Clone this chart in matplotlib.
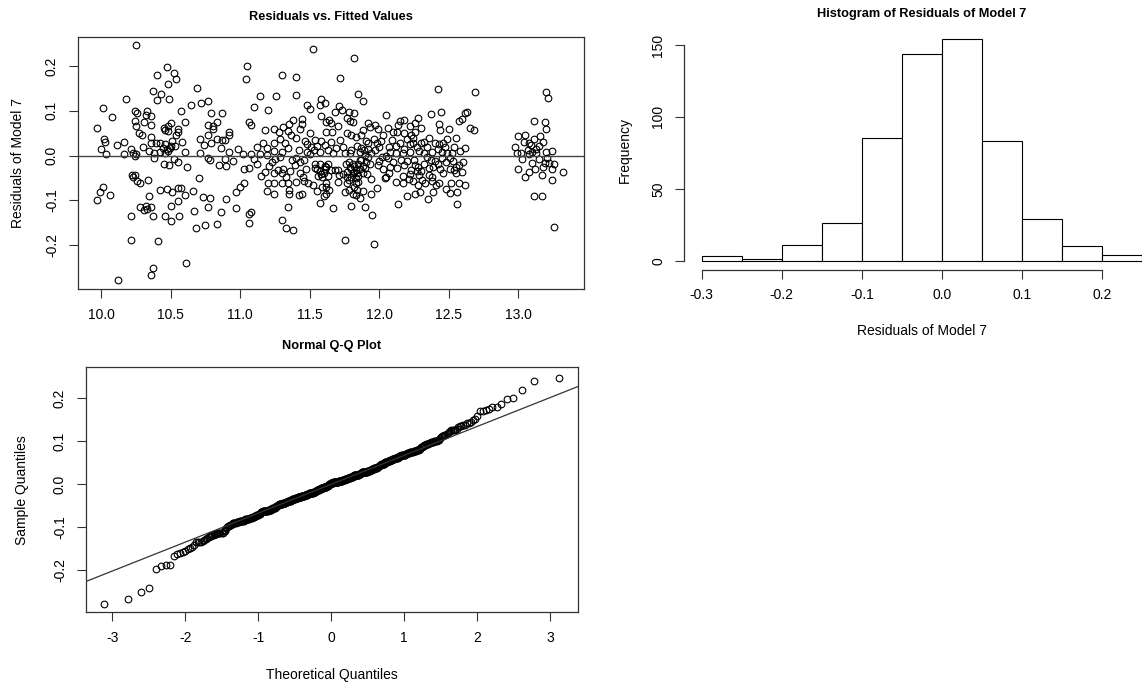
import numpy as np
import matplotlib
matplotlib.use("Agg")
import matplotlib.pyplot as plt
from statistics import NormalDist

plt.rcParams['font.family'] = ['Liberation Sans', 'DejaVu Sans']
plt.rcParams['axes.unicode_minus'] = False

# (fitted value, residual) pairs, grouped by region
pts_a = [(10.25, 0.246), (10.47, 0.197), (10.52, 0.185), (10.40, 0.179), (10.54, 0.170), (10.48, 0.159),
         (10.37, 0.145), (10.43, 0.138), (10.18, 0.126), (10.40, 0.125), (10.49, 0.126), (10.01, 0.106),
         (10.645, 0.112), (10.57, 0.099), (10.245, 0.100), (10.26, 0.094), (10.33, 0.099), (10.08, 0.086),
         (10.32, 0.090), (10.36, 0.088), (10.24, 0.078), (10.31, 0.074), (9.97, 0.061), (10.25, 0.067),
         (10.36, 0.068), (10.50, 0.072), (10.48, 0.066), (10.46, 0.057), (10.48, 0.055), (10.55, 0.059),
         (10.555, 0.052), (10.27, 0.050), (10.29, 0.045), (10.54, 0.047), (10.355, 0.041), (10.02, 0.037),
         (10.03, 0.030), (10.16, 0.031), (10.11, 0.023), (10.0, 0.015), (10.36, 0.027), (10.39, 0.027),
         (10.42, 0.027), (10.46, 0.025), (10.51, 0.032), (10.53, 0.021), (10.445, 0.016), (10.47, 0.014),
         (10.495, 0.016), (10.21, 0.014), (10.345, 0.010), (10.035, 0.003), (10.16, 0.003), (10.23, 0.005),
         (10.25, 0.003), (10.24, 0.0), (10.455, 0.005), (10.48, 0.010)]
pts_b = [(10.45, -0.018), (10.49, -0.021), (10.55, -0.015), (10.22, -0.043), (10.245, -0.044), (10.23, -0.047),
         (10.255, -0.056), (10.28, -0.062), (10.335, -0.055), (10.01, -0.071), (9.99, -0.081), (9.97, -0.100),
         (10.06, -0.088), (10.42, -0.077), (10.47, -0.074), (10.51, -0.082), (10.55, -0.073), (10.57, -0.072),
         (10.60, -0.088), (10.345, -0.091), (10.555, -0.102), (10.28, -0.115), (10.32, -0.113), (10.33, -0.120),
         (10.36, -0.115), (10.31, -0.122), (10.50, -0.113), (10.21, -0.135), (10.37, -0.135), (10.46, -0.135),
         (10.50, -0.146), (10.56, -0.135), (10.21, -0.188), (10.41, -0.191), (10.37, -0.251), (10.355, -0.267),
         (10.12, -0.279), (10.607, -0.241)]
pts_c = [(11.52, 0.239), (11.05, 0.200), (11.04, 0.170), (11.30, 0.179), (11.40, 0.175), (10.69, 0.152),
         (11.145, 0.134), (11.26, 0.132), (11.40, 0.135), (10.72, 0.117), (10.77, 0.122), (11.10, 0.109),
         (11.20, 0.102), (10.79, 0.094), (10.87, 0.095), (11.48, 0.114), (11.50, 0.103), (11.57, 0.113),
         (11.58, 0.126), (11.61, 0.118), (11.58, 0.089), (10.77, 0.068), (10.80, 0.067), (10.80, 0.059),
         (10.83, 0.074), (11.06, 0.074), (11.08, 0.068), (11.38, 0.079), (11.445, 0.082), (11.445, 0.070),
         (11.43, 0.059), (11.18, 0.056), (11.24, 0.060), (11.28, 0.052), (11.31, 0.064), (11.34, 0.055),
         (11.365, 0.047), (11.50, 0.050), (10.77, 0.046), (10.71, 0.038), (10.83, 0.037), (10.87, 0.035),
         (10.89, 0.035), (10.92, 0.053), (10.92, 0.047), (10.74, 0.023), (10.79, 0.027), (10.86, 0.016),
         (11.16, 0.029), (11.24, 0.027), (11.19, 0.016), (11.24, 0.011), (11.285, 0.037), (11.345, 0.017),
         (11.465, 0.032), (11.48, 0.026), (11.51, 0.020), (11.54, 0.035), (11.58, 0.032), (11.61, 0.023),
         (11.53, 0.012), (11.57, 0.009), (10.71, 0.005), (10.92, 0.007), (11.02, 0.003), (11.08, 0.003),
         (11.14, 0.003), (11.19, 0.001), (10.77, -0.005), (10.89, -0.008)]
pts_d = [(10.845, -0.021), (10.90, -0.024), (10.78, -0.009), (11.03, -0.029), (11.06, -0.027), (11.23, -0.014),
         (11.21, -0.024), (11.18, -0.036), (11.15, -0.046), (11.24, -0.040), (11.27, -0.032), (11.31, -0.029),
         (11.30, -0.038), (11.33, -0.047), (11.30, -0.061), (11.345, -0.062), (11.20, -0.062), (11.245, -0.061),
         (11.19, -0.080), (11.245, -0.085), (11.35, -0.076), (11.35, -0.085), (11.285, -0.004), (11.37, -0.010),
         (11.39, -0.021), (11.43, -0.014), (11.46, -0.010), (11.50, 0.003), (11.535, -0.018), (11.57, -0.019),
         (11.607, -0.024), (11.43, -0.040), (11.45, -0.047), (11.46, -0.056), (11.49, -0.062), (11.445, -0.085),
         (11.42, -0.088), (11.59, -0.070), (11.60, -0.091), (11.57, -0.106), (10.70, -0.051), (10.66, -0.079),
         (10.73, -0.092), (10.78, -0.096), (10.90, -0.098), (10.97, -0.081), (11.0, -0.071), (11.03, -0.061),
         (10.67, -0.123), (10.77, -0.116), (10.86, -0.126), (10.97, -0.118), (11.06, -0.131), (11.08, -0.127),
         (11.06, -0.150), (10.68, -0.161), (10.745, -0.155), (10.83, -0.152), (11.34, -0.116), (11.30, -0.143),
         (11.33, -0.162), (11.38, -0.167)]
pts_e = [(11.82, 0.218), (11.72, 0.173), (11.845, 0.138), (11.885, 0.123), (12.42, 0.148), (11.71, 0.111),
         (11.73, 0.101), (11.68, 0.097), (11.78, 0.097), (11.82, 0.094), (11.77, 0.085), (11.79, 0.077),
         (11.81, 0.074), (11.64, 0.079), (11.655, 0.072), (11.62, 0.076), (11.62, 0.053), (11.66, 0.052),
         (12.37, 0.092), (12.445, 0.098), (12.43, 0.071), (12.435, 0.057), (12.57, 0.077), (12.595, 0.082),
         (12.62, 0.095), (11.92, 0.072), (11.93, 0.064), (11.97, 0.068), (11.99, 0.060), (12.06, 0.062),
         (12.15, 0.077), (12.18, 0.079), (12.135, 0.068), (12.22, 0.067), (12.255, 0.073), (12.30, 0.061),
         (12.10, 0.053), (12.125, 0.053), (12.18, 0.050), (12.23, 0.047), (12.26, 0.053), (11.77, 0.050),
         (11.80, 0.046), (11.83, 0.042), (11.87, 0.046), (11.905, 0.032), (11.92, 0.027), (11.96, 0.038),
         (11.98, 0.029), (12.01, 0.032), (12.095, 0.035), (12.15, 0.029), (12.20, 0.038), (12.22, 0.025),
         (12.245, 0.029), (12.30, 0.029), (12.32, 0.031), (12.40, 0.029), (12.43, 0.025), (12.46, 0.029),
         (12.49, 0.037), (12.535, 0.020), (12.62, 0.016), (11.69, 0.017), (11.75, 0.005), (11.80, 0.012),
         (11.79, 0.005), (11.87, 0.016), (11.89, 0.012), (11.90, 0.001), (11.94, 0.005), (12.05, 0.0),
         (12.08, 0.007), (12.12, 0.005), (12.17, 0.005), (12.22, 0.007), (12.285, 0.010), (12.32, 0.005),
         (12.38, 0.007), (12.45, 0.009), (12.49, 0.005), (12.52, 0.005), (11.63, 0.012)]
pts_f = [(11.92, -0.003), (11.87, -0.010), (11.845, -0.018), (11.82, -0.024), (11.79, -0.025), (11.77, -0.036),
         (11.81, -0.040), (11.83, -0.032), (11.86, -0.031), (11.88, -0.024), (11.905, -0.014), (11.80, -0.047),
         (11.83, -0.051), (11.77, -0.062), (11.83, -0.062), (11.75, -0.081), (11.78, -0.077), (11.81, -0.085),
         (11.84, -0.077), (11.86, -0.096), (11.83, -0.088), (11.94, -0.053), (11.94, -0.085), (11.98, -0.073),
         (11.80, -0.113), (11.90, -0.115), (11.95, -0.132), (11.67, -0.118), (11.755, -0.189), (11.96, -0.197),
         (11.99, -0.021), (12.02, -0.003), (12.06, -0.006), (12.08, -0.025), (12.04, -0.051), (12.05, -0.047),
         (12.155, -0.010), (12.18, -0.021), (12.23, -0.032), (12.17, -0.046), (12.17, -0.062), (12.215, -0.053),
         (12.24, -0.056), (12.26, -0.021), (12.27, -0.034), (12.285, -0.044), (12.31, -0.055), (12.32, -0.018),
         (12.345, -0.003), (12.37, -0.010), (12.357, -0.044), (12.39, -0.025), (12.42, -0.018), (12.45, -0.006),
         (12.43, -0.062), (12.41, -0.066), (12.33, -0.062), (12.135, -0.109), (12.26, -0.085), (12.29, -0.081),
         (12.35, -0.098), (12.39, -0.081), (12.51, -0.006), (12.507, -0.029), (12.535, -0.032), (12.57, -0.021),
         (12.55, -0.040), (12.595, -0.036), (12.517, -0.061), (12.57, -0.062), (12.615, -0.066), (12.51, -0.083),
         (12.56, -0.081), (12.56, -0.109), (11.62, -0.062), (11.64, -0.077), (11.62, -0.085), (11.70, -0.059),
         (11.71, -0.044), (11.65, -0.032), (11.68, -0.032), (11.70, -0.032), (11.63, -0.018)]
pts_g = [(12.69, 0.141), (13.20, 0.141), (13.216, 0.129), (12.63, 0.097), (12.65, 0.061), (12.68, 0.056),
         (13.11, 0.077), (13.19, 0.074), (13.0, 0.044), (13.05, 0.047), (13.11, 0.038), (13.155, 0.044),
         (13.08, 0.029), (13.095, 0.023), (13.15, 0.021), (13.07, 0.012), (12.99, 0.005), (13.02, 0.005),
         (13.08, 0.003), (13.13, 0.005), (13.20, 0.007), (13.21, -0.005)]
pts_h = [(13.10, -0.016), (13.19, -0.016), (13.22, -0.016), (13.18, -0.025), (13.24, -0.029), (13.12, -0.031),
         (13.08, -0.037), (13.05, -0.047), (13.17, -0.044), (13.24, -0.055), (13.32, -0.037), (13.11, -0.090),
         (13.17, -0.090), (13.255, -0.159)]
# points hidden in the dense overlapping clusters near the zero line
pts_dense_neg = [(11.55, -0.030), (11.57, -0.035), (11.58, -0.042), (11.59, -0.048), (11.60, -0.040),
                 (11.61, -0.030), (11.62, -0.025), (11.56, -0.045), (11.54, -0.028), (11.63, -0.046),
                 (11.76, -0.020), (11.78, -0.015), (11.80, -0.030), (11.81, -0.020), (11.82, -0.036),
                 (11.84, -0.040), (11.85, -0.045), (11.86, -0.010), (11.88, -0.038), (11.90, -0.028),
                 (11.91, -0.042), (11.93, -0.020), (11.74, -0.042), (11.77, -0.048), (12.00, -0.012),
                 (12.03, -0.030), (12.07, -0.040), (12.10, -0.015), (12.13, -0.028), (12.20, -0.012),
                 (12.22, -0.042), (12.25, -0.010), (12.28, -0.025), (12.30, -0.035), (12.36, -0.028),
                 (12.38, -0.048), (12.40, -0.012), (12.44, -0.030), (12.46, -0.040), (12.48, -0.015),
                 (12.53, -0.012), (12.55, -0.025), (12.60, -0.015), (11.10, -0.008), (11.12, -0.020),
                 (11.25, -0.008), (11.36, -0.035), (11.40, -0.005), (11.47, -0.030), (10.38, -0.005),
                 (10.52, -0.008), (10.62, -0.025), (10.95, -0.012), (13.03, -0.008), (13.15, -0.008),
                 (13.26, -0.020), (13.00, -0.030),
                 (11.52, -0.065), (11.55, -0.080), (11.62, -0.070), (11.78, -0.055), (11.82, -0.070),
                 (11.85, -0.060), (11.88, -0.080), (12.12, -0.060), (12.28, -0.065), (12.38, -0.058),
                 (12.48, -0.075), (11.40, -0.060), (12.20, -0.090)]
pts_dense_pos = [(10.38, 0.005), (10.42, 0.008), (10.50, 0.022), (10.58, 0.030), (10.30, 0.020), (10.60, 0.008),
                 (10.98, 0.015), (11.12, 0.020), (11.30, 0.008), (11.32, 0.028), (11.40, 0.040), (11.42, 0.012),
                 (11.55, 0.022), (11.48, 0.008), (11.65, 0.030), (11.67, 0.005), (11.72, 0.035), (11.74, 0.020),
                 (11.84, 0.022), (11.86, 0.008), (11.92, 0.015), (11.97, 0.012), (12.00, 0.020), (12.03, 0.045),
                 (12.07, 0.018), (12.12, 0.022), (12.18, 0.015), (12.24, 0.040), (12.27, 0.018), (12.34, 0.018),
                 (12.36, 0.040), (12.42, 0.015), (12.47, 0.020), (12.55, 0.040), (12.58, 0.010), (12.98, 0.020),
                 (13.04, 0.030), (13.13, 0.015), (13.18, 0.030), (13.24, 0.010), (13.10, 0.008),
                 (10.45, 0.062), (10.60, 0.075), (11.35, 0.070), (11.70, 0.065), (11.88, 0.058), (12.05, 0.090),
                 (12.28, 0.085), (12.50, 0.060), (13.20, 0.060)]

# histogram of residuals: bin edges and bar heights
hist_edges = [-0.30, -0.25, -0.20, -0.15, -0.10, -0.05, 0.00, 0.05, 0.10, 0.15, 0.20, 0.25]
hist_counts = [3, 1, 11, 26, 85, 144, 154, 83, 29, 10, 4]

pts = np.array(pts_a + pts_b + pts_c + pts_d + pts_e + pts_f + pts_g + pts_h
               + pts_dense_neg + pts_dense_pos)
fitted = pts[:, 0]
resid = pts[:, 1]

W, H = 1142, 685
fig = plt.figure(figsize=(W / 100, H / 100), dpi=100)


def box(l, t, r, b):
    return [l / W, 1 - b / H, (r - l) / W, (b - t) / H]


def style(ax, frame=True):
    for s in ax.spines.values():
        s.set_color('#333333')
        s.set_linewidth(0.9)
        s.set_visible(frame)
    ax.tick_params(direction='out', length=6.5, width=0.8, color='#333333',
                   labelsize=10, pad=7)
    for lab in ax.get_yticklabels():
        lab.set_rotation(90)
        lab.set_va('center')


def fmt(vals, f):
    return [f.format(v).replace('\u2212', '-') for v in vals]


mk = dict(marker='o', linestyle='none', mfc='none', mec='black', ms=4.8, mew=0.8)
title_kw = dict(ha='center', va='center', fontsize=9.2, fontweight='bold')

# ---- Residuals vs fitted ----
ax1 = fig.add_axes(box(77.7, 37, 584, 289.3))
ax1.plot(fitted, resid, **mk)
ax1.axhline(0, color='#444444', lw=1.0)
ax1.set_xlim(9.83, 13.473)
ax1.set_ylim(-0.299, 0.265)
xt = [10.0, 10.5, 11.0, 11.5, 12.0, 12.5, 13.0]
yt = [-0.2, -0.1, 0.0, 0.1, 0.2]
ax1.set_xticks(xt, fmt(xt, '{:.1f}'))
ax1.set_yticks(yt, fmt(yt, '{:.1f}'))
style(ax1)
fig.text(330.8 / W, 1 - 17 / H, 'Residuals vs. Fitted Values', **title_kw)
fig.text(18 / W, 1 - 163 / H, 'Residuals of Model 7', ha='center', va='center', rotation=90, fontsize=10)

# ---- Histogram ----
ax2 = fig.add_axes(box(684, 30.4, 1160, 269.5))
ax2.bar(hist_edges[:-1], hist_counts, width=np.diff(hist_edges), align='edge',
        facecolor='white', edgecolor='black', linewidth=0.8)
ax2.set_xlim(-0.322, 0.272)
ax2.set_ylim(-6.16, 160.16)
ht = [-0.3, -0.2, -0.1, 0.0, 0.1, 0.2]
ax2.set_xticks(ht, fmt(ht, '{:.1f}'))
ax2.set_yticks([0, 50, 100, 150], ['0', '50', '100', '150'])
style(ax2, frame=False)
ax2.spines['bottom'].set_visible(True)
ax2.spines['left'].set_visible(True)
ax2.spines['bottom'].set_bounds(-0.3, 0.2)
ax2.spines['left'].set_bounds(0, 150)
fig.text(922 / W, 1 - 14 / H, 'Histogram of Residuals of Model 7', **title_kw)
fig.text(922 / W, 1 - 331 / H, 'Residuals of Model 7', ha='center', va='center', fontsize=10)
fig.text(625 / W, 1 - 150 / H, 'Frequency', ha='center', va='center', rotation=90, fontsize=10)

# ---- Normal Q-Q ----
n = len(resid)
a = 0.375 if n <= 10 else 0.5
probs = (np.arange(1, n + 1) - a) / (n + 1 - 2 * a)
nd = NormalDist()
theo = np.array([nd.inv_cdf(p) for p in probs])
samp = np.sort(resid)
q_y = np.quantile(resid, [0.25, 0.75])
q_x = np.array([nd.inv_cdf(0.25), nd.inv_cdf(0.75)])
slope = (q_y[1] - q_y[0]) / (q_x[1] - q_x[0])
icpt = q_y[0] - slope * q_x[0]

ax3 = fig.add_axes(box(85.7, 367.3, 577.7, 612))
ax3.plot(theo, samp, **mk)
ax3.set_xlim(-3.364, 3.375)
ax3.set_ylim(-0.2977, 0.2714)
lx = np.array([-3.364, 3.375])
ax3.plot(lx, icpt + slope * lx, color='#333333', lw=0.9)
qt = [-3, -2, -1, 0, 1, 2, 3]
ax3.set_xticks(qt, fmt(qt, '{:d}'))
ax3.set_yticks(yt, fmt(yt, '{:.1f}'))
style(ax3)
fig.text(331.7 / W, 1 - 346 / H, 'Normal Q-Q Plot', **title_kw)
fig.text(331.7 / W, 1 - 675 / H, 'Theoretical Quantiles', ha='center', va='center', fontsize=10)
fig.text(22 / W, 1 - 490 / H, 'Sample Quantiles', ha='center', va='center', rotation=90, fontsize=10)

fig.savefig('out.png', dpi=100)
